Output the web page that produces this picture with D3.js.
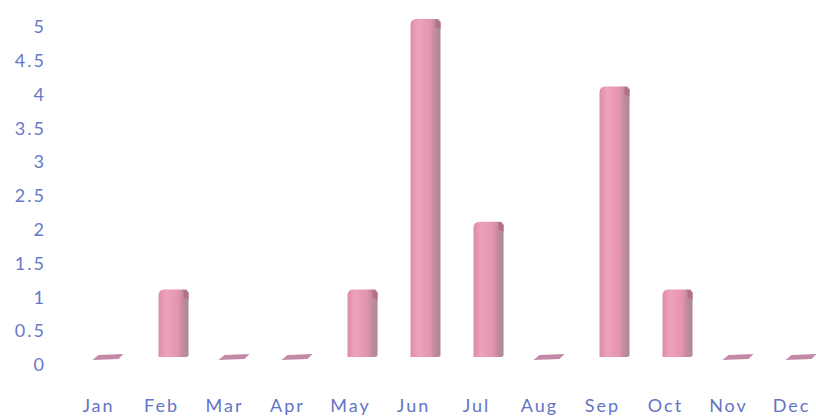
<!DOCTYPE html>
<html>
<head>
<meta charset="utf-8">
<script src="https://cdn.jsdelivr.net/npm/d3@7"></script>
<style>
  html, body { margin: 0; padding: 0; background: #fff; }
  svg { display: block; }
  text { font-family: Lato, "Open Sans", sans-serif; }
</style>
</head>
<body>
<svg id="chart" width="816" height="419"></svg>
<script>
const months = ["Jan", "Feb", "Mar", "Apr", "May", "Jun", "Jul", "Aug", "Sep", "Oct", "Nov", "Dec"];
const values = [0, 1, 0, 0, 1, 5, 2, 0, 4, 1, 0, 0];
const yTicks = [0, 0.5, 1, 1.5, 2, 2.5, 3, 3.5, 4, 4.5, 5];

const svg = d3.select("#chart");

const x = d3.scaleBand().domain(months).range([67, 823]).paddingInner(0).paddingOuter(0);
const y = d3.scaleLinear().domain([0, 5]).range([365, 27]);

// 3D depth shift of the bar bodies relative to the axis labels
const depthX = 12, depthY = -8;
const barW = 30;

const defs = svg.append("defs");
const grad = defs.append("linearGradient").attr("id", "face").attr("x1", 0).attr("x2", 1).attr("y1", 0).attr("y2", 0);
grad.append("stop").attr("offset", "0%").attr("stop-color", "#e08aa6");
grad.append("stop").attr("offset", "25%").attr("stop-color", "#eda2bb");
grad.append("stop").attr("offset", "65%").attr("stop-color", "#e494ae");
grad.append("stop").attr("offset", "80%").attr("stop-color", "#c58ba1");
grad.append("stop").attr("offset", "100%").attr("stop-color", "#a88896");

// y axis labels
const yAxis = d3.axisLeft(y).tickValues(yTicks).tickSize(0).tickPadding(0)
  .tickFormat(d => String(d));
const gy = svg.append("g").attr("transform", "translate(46,0)").call(yAxis);
gy.select(".domain").remove();
gy.selectAll("text").attr("fill", "#6678c8").attr("font-size", 18)
  .attr("letter-spacing", "2px");

// x axis labels
const xAxis = d3.axisBottom(x).tickSize(0).tickPadding(0);
const gx = svg.append("g").attr("transform", "translate(0,399)").call(xAxis);
gx.select(".domain").remove();
gx.selectAll("text").attr("fill", "#6474c4").attr("font-size", 18).attr("dy", "0.71em")
  .attr("letter-spacing", "2px");

const bars = svg.append("g");
months.forEach((m, i) => {
  const v = values[i];
  const cx = x(m) + x.bandwidth() / 2 + depthX;
  const x0 = cx - barW / 2;
  const yBase = y(0) + depthY;
  const yTop = y(v) + depthY;
  if (v > 0) {
    const r = 6;
    bars.append("path")
      .attr("d", `M${x0},${yBase} L${x0},${yTop + r} Q${x0},${yTop} ${x0 + r},${yTop} L${x0 + barW - 2},${yTop} L${x0 + barW},${yTop + 3} L${x0 + barW},${yBase - 2} Q${x0 + barW},${yBase} ${x0 + barW - 4},${yBase} Z`)
      .attr("fill", "url(#face)");
    bars.append("path")
      .attr("d", `M${x0 + barW - 5},${yTop} L${x0 + barW},${yTop + 3} L${x0 + barW},${yTop + 10} L${x0 + barW - 5},${yTop + 8} Z`)
      .attr("fill", "#b46f8c");
  } else {
    const len = 28;
    bars.append("path")
      .attr("d", `M${x0 - 3},${yBase + 3} L${x0 + 3},${yBase - 2} L${x0 + len},${yBase - 3} L${x0 + len - 5},${yBase + 2} Z`)
      .attr("fill", "#c28aa6");
  }
});
</script>
</body>
</html>
